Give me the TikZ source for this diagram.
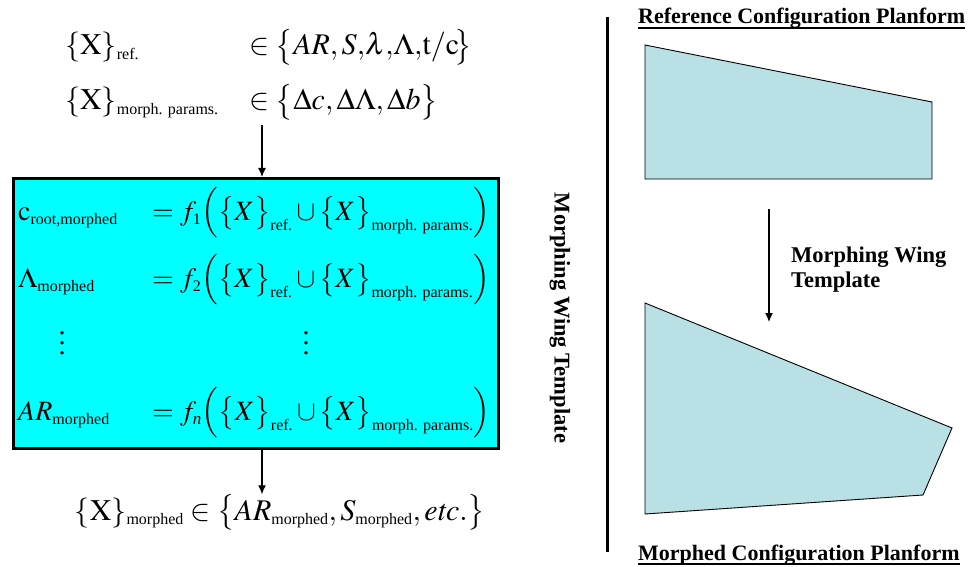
\documentclass[tikz,border=0pt]{standalone}
\usepackage{amsmath}
\usepackage{mathptmx}
\usepackage{fontspec}
\setmainfont{Liberation Serif}
\usetikzlibrary{arrows.meta}
\definecolor{wingfill}{RGB}{185,224,228}
\definecolor{boxcyan}{RGB}{0,255,255}
\newcommand\sbt[1]{\text{\fontsize{16}{19}\selectfont #1}}
\newcommand\sbi[1]{\text{\fontsize{17}{19}\selectfont\itshape #1}}
\newcommand\myvdots{\vbox{\baselineskip=10pt\lineskiplimit=0pt\hbox{.}\hbox{.}\hbox{.}}}
\tikzset{
  eqtop/.style={anchor=base west, inner sep=0pt, font=\fontsize{30}{36}\selectfont},
  eqbox/.style={anchor=base west, inner sep=0pt, font=\fontsize{28}{34}\selectfont},
  arr/.style={line width=1.2pt, -{Latex[length=9pt,width=8pt]}},
  wing/.style={draw=black, line width=0.9pt, fill=wingfill, line join=miter},
  ttl/.style={anchor=base west, inner sep=0pt, font=\bfseries\fontsize{22}{26}\selectfont},
  uline/.style={line width=1.3pt},
  lbl/.style={font=\bfseries\fontsize{22.5}{25}\selectfont, inner sep=0pt}
}
\begin{document}
\begin{tikzpicture}[x=1pt,y=-1pt]
\useasboundingbox (0,0) rectangle (972,567);
% top definitions
\node[eqtop] (r1l) at (65,55) {$\{\mathrm{X}\}_{\sbt{ref.}}$};
\node[eqtop] (r1r) at (249,55) {$\in\bigl\{AR,S,\mkern-2mu\lambda,\mkern-2mu\Lambda,\mkern-2mu\mathrm{t/c}\mkern-3mu\bigr\}$};
\node[eqtop] (r2l) at (65,110) {$\{\mathrm{X}\}_{\sbt{morph. params.}}$};
\node[eqtop] (r2r) at (249,110) {$\in\bigl\{\Delta c,\Delta\Lambda,\Delta b\bigr\}$};
% box
\node[draw=black, fill=boxcyan, line width=2.8pt, inner sep=0pt, minimum width=485pt, minimum height=270pt, anchor=north west] (box) at (12,177) {};
\coordinate (a1) at (262,125);
\draw[arr] (a1) -- (a1 |- box.north);
\node[eqbox] (b1l) at (18,220) {$\mathrm{c}_{\sbt{root,morphed}}$};
\node[eqbox] (b1r) at (152,220) {$=f_{\sbt{1}}\Bigl(\bigl\{X\bigr\}_{\sbt{ref.}}\cup\bigl\{X\bigr\}_{\sbt{morph. params.}}\Bigr)$};
\node[eqbox] (b2l) at (18,287) {$\Lambda_{\sbt{morphed}}$};
\node[eqbox] (b2r) at (152,287) {$=f_{\sbt{2}}\Bigl(\bigl\{X\bigr\}_{\sbt{ref.}}\cup\bigl\{X\bigr\}_{\sbt{morph. params.}}\Bigr)$};
\node[eqbox, anchor=center] (d1) at (62,343) {\myvdots};
\node[eqbox, anchor=center] (d2) at (306,343) {\myvdots};
\node[eqbox] (b4l) at (18,420) {$AR_{\sbt{morphed}}$};
\node[eqbox] (b4r) at (152,420) {$=f_{\sbi{n}}\Bigl(\bigl\{X\bigr\}_{\sbt{ref.}}\cup\bigl\{X\bigr\}_{\sbt{morph. params.}}\Bigr)$};
% bottom
\node[eqtop, anchor=base] (res) at (280,520) {$\{\mathrm{X}\}_{\sbt{morphed}}\in\bigl\{AR_{\sbt{morphed}},S_{\sbt{morphed}},\mathit{etc.}\bigr\}$};
\draw[arr] (box.south -| a1) -- (a1 |- res.north);
% vertical label
\node[lbl, rotate=-90] (vt) at (560,318) {Morphing Wing Template};
% separator
\draw[line width=3pt] (607,17) -- (607,552);
% right side
\node[ttl] (t1) at (638,24) {Reference Configuration Planform};
\draw[uline] ([yshift=-4pt]t1.base west) -- ([yshift=-4pt]t1.base east);
\draw[wing] (645,45) -- (932,102) -- (932,179) -- (645,179) -- cycle;
\coordinate (m1) at (769,209);
\coordinate (m2) at (769,322);
\draw[arr] (m1) -- (m2);
\node[lbl, anchor=north west, align=left] (ml) at (791,247) {Morphing Wing\\Template};
\draw[wing] (645,303) -- (952,428) -- (923,495) -- (645,514) -- cycle;
\node[ttl] (t2) at (638,560) {Morphed Configuration Planform};
\draw[uline] ([yshift=-4pt]t2.base west) -- ([yshift=-4pt]t2.base east);
\end{tikzpicture}
\end{document}
